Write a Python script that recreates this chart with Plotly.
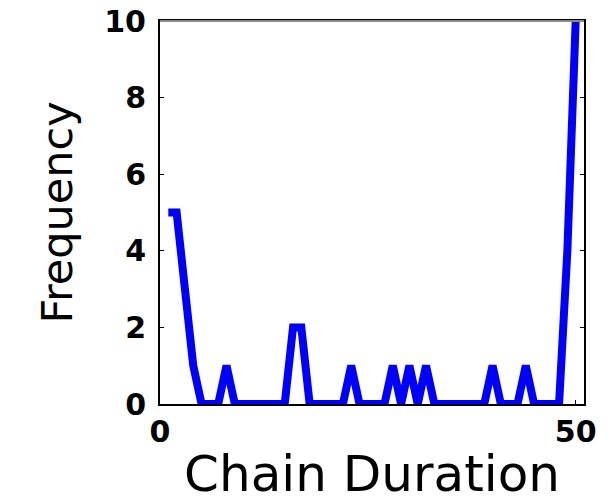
import plotly.graph_objects as go

# Histogram of chain durations: count of chains per duration value
duration = list(range(1, 51))
frequency = [
    5, 5, 3, 1, 0, 0, 0, 1, 0, 0,
    0, 0, 0, 0, 0, 2, 2, 0, 0, 0,
    0, 0, 1, 0, 0, 0, 0, 1, 0, 1,
    0, 1, 0, 0, 0, 0, 0, 0, 0, 1,
    0, 0, 0, 1, 0, 0, 0, 0, 4, 10,
]

x_ticks = [0, 50]
y_ticks = [0, 2, 4, 6, 8, 10]

fig = go.Figure()
fig.add_trace(go.Scatter(
    x=duration,
    y=frequency,
    mode="lines",
    line=dict(color="#0000FF", width=8),
    showlegend=False,
))

tick_font = dict(family="DejaVu Sans", size=30, color="black", weight="bold")

fig.update_layout(
    width=610,
    height=503,
    margin=dict(l=160, r=26, t=21, b=99, autoexpand=False),
    paper_bgcolor="white",
    plot_bgcolor="white",
    xaxis=dict(
        range=[0, 51],
        tickvals=x_ticks,
        ticktext=[str(v) for v in x_ticks],
        ticks="inside",
        ticklen=4,
        tickcolor="black",
        showgrid=False,
        zeroline=False,
        showline=True,
        linecolor="black",
        linewidth=2,
        mirror="ticks",
        automargin=False,
        tickfont=tick_font,
        title=dict(text="Chain Duration",
                   font=dict(family="DejaVu Sans", size=50, color="black"),
                   standoff=14),
    ),
    yaxis=dict(
        range=[0, 10],
        tickvals=y_ticks,
        ticktext=[str(v) for v in y_ticks],
        ticks="inside",
        ticklen=4,
        tickcolor="black",
        showgrid=False,
        zeroline=False,
        showline=True,
        linecolor="black",
        linewidth=2,
        mirror="ticks",
        automargin=False,
        tickfont=tick_font,
        ticklabelstandoff=6,
        title=dict(text="Frequency",
                   font=dict(family="DejaVu Sans", size=43, color="black"),
                   standoff=18),
    ),
)

# lighter frame edge along the top of the plot area
fig.add_shape(type="line", xref="paper", yref="paper",
              x0=0, x1=1, y0=1, y1=1,
              line=dict(color="#8a8a8a", width=2))

fig.write_html("out.html")
